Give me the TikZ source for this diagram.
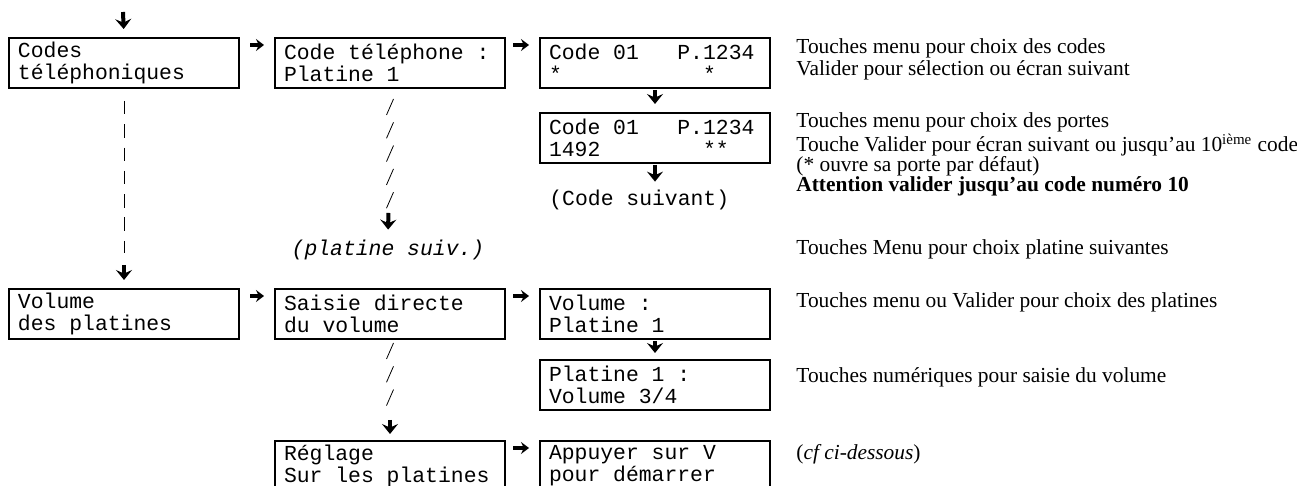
\documentclass[tikz,border=0pt]{standalone}
\usepackage{fontspec}
\setmainfont{Liberation Serif}
\newfontfamily\monofont{Liberation Mono}
\newcommand\screenfont{\monofont\fontsize{10.7}{11}\selectfont}
\usetikzlibrary{positioning, arrows.meta}

\begin{document}
\begin{tikzpicture}[x=0.5pt, y=-0.5pt,
    screen/.style={draw, line width=1pt, rectangle, minimum width=115pt,
        minimum height=25pt, text width=106pt, inner xsep=4.5pt, inner ysep=0pt,
        align=left, font=\screenfont,
        execute at begin node={\spaceskip=0pt\xspaceskip=0pt\relax}},
    hint/.style={inner sep=0pt, font=\screenfont},
    note/.style={anchor=base west, inner sep=0pt, font=\fontsize{10.7}{11}\selectfont},
    darrow/.style={line width=2pt, -{Stealth[length=5pt, width=8pt, inset=1.8pt]}},
    rarrow/.style={line width=1.6pt, -{Stealth[length=4pt, width=6pt, inset=1.4pt]}},
    pipe/.style={line width=0.4pt}]
    \path[use as bounding box, clip] (0,0) rectangle (1297,486);

    \node[screen, anchor=north west] (codes) at (8,37) {Codes\\téléphoniques};
    \node[screen, right=17pt of codes] (tel) {Code téléphone :\\Platine 1};
    \node[screen, right=16.5pt of tel] (code01) {Code 01~~~P.1234\\{}*~~~~~~~~~~~*};
    \node[screen, below=11.5pt of code01] (code01b) {Code 01~~~P.1234\\1492~~~~~~~~**};
    \node[hint, anchor=west] (suiv) at (549,200) {(Code suivant)};
    \node[hint, font=\screenfont\itshape] (platsuiv) at (388,250) {(platine suiv.)};

    \node[screen, below=99.5pt of codes] (volume) {Volume\\des platines};
    \node[screen, right=17pt of volume] (saisie) {Saisie directe\\du volume};
    \node[screen, right=16.5pt of saisie] (volplat) {Volume :\\Platine 1};
    \node[screen, below=9.5pt of volplat] (plat1) {Platine 1 :\\Volume 3/4};
    \node[screen, below=50pt of saisie] (reglage) {Réglage\\Sur les platines};
    \node[screen, right=16.5pt of reglage] (appuyer) {Appuyer sur V\\pour démarrer};

    \node[note] (d1) at (796,54) {Touches menu pour choix des codes};
    \node[note] (d2) at (796,76) {Valider pour sélection ou écran suivant};
    \node[note] (d3) at (796,128) {Touches menu pour choix des portes};
    \node[note] (d4) at (796,152) {Touche Valider pour écran suivant ou jusqu’au 10\textsuperscript{ième} code};
    \node[note] (d5) at (796,172) {(* ouvre sa porte par défaut)};
    \node[note] (d6) at (796,192) {\textbf{Attention valider jusqu’au code numéro 10}};
    \node[note] (d7) at (796,255) {Touches Menu pour choix platine suivantes};
    \node[note] (d8) at (796,308) {Touches menu ou Valider pour choix des platines};
    \node[note] (d9) at (796,383) {Touches numériques pour saisie du volume};
    \node[note] (d10) at (796,459) {(\textit{cf ci-dessous})};

    \coordinate (entry) at (123,12);
    \draw[darrow, shorten >=4pt] (entry) -- (codes.north);

    \draw[rarrow, shorten <=5pt, shorten >=5pt] ([yshift=-4pt]codes.north east) -- ([yshift=-4pt]tel.north west);
    \draw[rarrow, shorten <=3.5pt, shorten >=5pt] ([yshift=-4pt]tel.north east) -- ([yshift=-4pt]code01.north west);
    \draw[rarrow, shorten <=5pt, shorten >=5pt] ([yshift=-4pt]volume.north east) -- ([yshift=-4pt]saisie.north west);
    \draw[rarrow, shorten <=3.5pt, shorten >=5pt] ([yshift=-4pt]saisie.north east) -- ([yshift=-4pt]volplat.north west);
    \draw[rarrow, shorten <=3.5pt, shorten >=5pt] ([yshift=-4pt]reglage.north east) -- ([yshift=-4pt]appuyer.north west);

    \draw[darrow, shorten <=0.5pt, shorten >=4pt] (code01) -- (code01b);
    \draw[darrow, shorten <=0.5pt, shorten >=3pt] (volplat) -- (plat1);
    \draw[darrow, shorten <=0.5pt, shorten >=4pt] (code01b.south) -- (code01b.south |- suiv.north);

    \draw[pipe, dash pattern=on 6.75pt off 4.9pt, shorten <=6pt, shorten >=17.5pt] (codes.south) -- (volume.north);
    \draw[darrow, shorten <=88pt, shorten >=4pt] (codes.south) -- (volume.north);

    \foreach \k in {0,...,4}
        \draw[pipe] ([shift={(3.5,10+23.3*\k)}]tel.south) -- ++(-7,16);
    \draw[darrow, shorten <=62pt, shorten >=5pt] (tel.south) -- (platsuiv.north);

    \foreach \k in {0,...,2}
        \draw[pipe] ([shift={(3.5,3+23.3*\k)}]saisie.south) -- ++(-7,16);
    \draw[darrow, shorten <=40pt, shorten >=3pt] (saisie.south) -- (reglage.north);
\end{tikzpicture}
\end{document}
